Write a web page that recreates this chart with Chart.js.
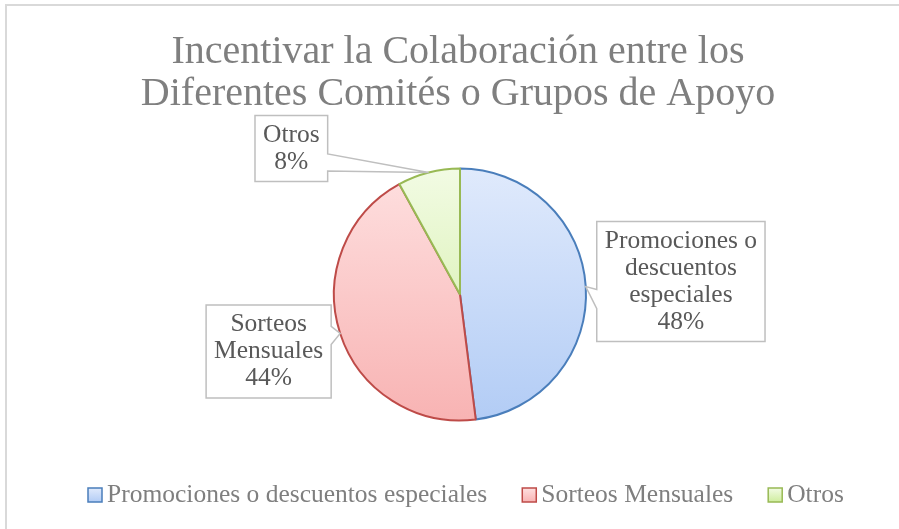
<!DOCTYPE html>
<html><head><meta charset="utf-8">
<script src="https://cdn.jsdelivr.net/npm/chart.js@4"></script>
<style>html,body{margin:0;padding:0;background:#fff}</style>
</head><body>
<canvas id="c" width="899" height="529"></canvas>
<script>
const titleLines = ['Incentivar la Colaboración entre los', 'Diferentes Comités o Grupos de Apoyo'];
const categories = ['Promociones o descuentos especiales', 'Sorteos Mensuales', 'Otros'];
const values = [48, 44, 8];
const labelLines = [['Promociones o', 'descuentos', 'especiales'], ['Sorteos', 'Mensuales'], ['Otros']];

const borderColors = ['#4a7ebb', '#be4b48', '#98b954'];
const fillTop = ['#e0eafc', '#fee0e0', '#f2fbe4'];
const fillBottom = ['#b2ccf5', '#f8b3b3', '#cfed9e'];

const FONT = '"Liberation Serif", "Times New Roman", serif';

function gradFill(ctx) {
  const i = ctx.dataIndex || 0;
  const ca = ctx.chart.chartArea;
  if (!ca) return fillTop[i];
  const g = ctx.chart.ctx.createLinearGradient(0, ca.top, 0, ca.bottom);
  g.addColorStop(0, fillTop[i]);
  g.addColorStop(1, fillBottom[i]);
  return g;
}

const calloutStyle = [
  { side: 'right', gap: 11, dy: -5, base: [3, 22] },
  { side: 'left', gap: 9, dy: 18, base: [-7, 11] },
  { side: 'left', gap: 101, dy: -24, base: [-18.5, -1.5] }
];

const framePlugin = {
  id: 'frame',
  beforeDraw(chart) {
    const c = chart.ctx;
    c.save();
    c.fillStyle = '#fff';
    c.fillRect(0, 0, chart.width, chart.height);
    c.strokeStyle = '#d9d9d9';
    c.lineWidth = 2;
    c.strokeRect(6, 5, 1200, 1200);
    c.restore();
  }
};

const textPlugin = {
  id: 'texts',
  afterDraw(chart) {
    const c = chart.ctx;
    c.save();
    c.fillStyle = '#7f7f7f';
    c.font = '40px ' + FONT;
    c.textAlign = 'center';
    c.textBaseline = 'alphabetic';
    titleLines.forEach((t, i) => c.fillText(t, 458, 63 + i * 42));

    const meta = chart.getDatasetMeta(0);
    const total = values.reduce((a, b) => a + b, 0);
    c.font = '25.5px ' + FONT;
    meta.data.forEach((arc, i) => {
      const p = arc.getProps(['x', 'y', 'startAngle', 'endAngle', 'outerRadius'], true);
      const mid = (p.startAngle + p.endAngle) / 2;
      const tx = p.x + Math.cos(mid) * p.outerRadius;
      const ty = p.y + Math.sin(mid) * p.outerRadius;
      const lines = labelLines[i].concat([Math.round(values[i] / total * 100) + '%']);
      const tw = Math.max(...lines.map(l => c.measureText(l).width));
      const w = tw + 16, h = lines.length * 27 + 12;
      const st = calloutStyle[i];
      let L, R;
      if (st.side === 'right') { L = tx + st.gap; R = L + w; } else { R = tx - st.gap; L = R - w; }
      const T = ty + st.dy - h / 2, B = T + h;
      c.beginPath();
      if (st.side === 'left') {
        c.moveTo(L, T); c.lineTo(R, T); c.lineTo(R, ty + st.base[0]); c.lineTo(tx, ty);
        c.lineTo(R, ty + st.base[1]); c.lineTo(R, B); c.lineTo(L, B); c.closePath();
      } else {
        c.moveTo(L, T); c.lineTo(R, T); c.lineTo(R, B); c.lineTo(L, B);
        c.lineTo(L, ty + st.base[1]); c.lineTo(tx, ty); c.lineTo(L, ty + st.base[0]); c.closePath();
      }
      c.fillStyle = '#fff';
      c.fill();
      c.strokeStyle = '#bfbfbf';
      c.lineWidth = 1.5;
      c.lineJoin = 'miter';
      c.stroke();
      c.fillStyle = '#595959';
      c.textAlign = 'center';
      c.textBaseline = 'middle';
      lines.forEach((l, k) => c.fillText(l, (L + R) / 2, T + 6 + 27 * (k + 0.5)));
    });

    c.font = '25.5px ' + FONT;
    c.textAlign = 'left';
    c.textBaseline = 'middle';
    let x = 88;
    const cy = 495, bs = 14;
    categories.forEach((cat, i) => {
      const g = c.createLinearGradient(0, cy - bs / 2, 0, cy + bs / 2);
      g.addColorStop(0, fillTop[i]);
      g.addColorStop(1, fillBottom[i]);
      c.fillStyle = g;
      c.fillRect(x, cy - bs / 2, bs, bs);
      c.strokeStyle = borderColors[i];
      c.lineWidth = 1.5;
      c.strokeRect(x, cy - bs / 2, bs, bs);
      c.fillStyle = '#7f7f7f';
      c.fillText(cat, x + 19, cy);
      x += 19 + c.measureText(cat).width + 35;
    });
    c.restore();
  }
};

new Chart(document.getElementById('c'), {
  type: 'pie',
  data: {
    labels: categories,
    datasets: [{
      data: values,
      backgroundColor: gradFill,
      borderColor: borderColors,
      borderWidth: 2,
      hoverOffset: 0
    }]
  },
  options: {
    responsive: false,
    animation: false,
    devicePixelRatio: 1,
    events: [],
    layout: { padding: { left: 333, right: 312, top: 167.5, bottom: 107.5 } },
    plugins: { legend: { display: false }, title: { display: false }, tooltip: { enabled: false } }
  },
  plugins: [framePlugin, textPlugin]
});
</script>
</body></html>
